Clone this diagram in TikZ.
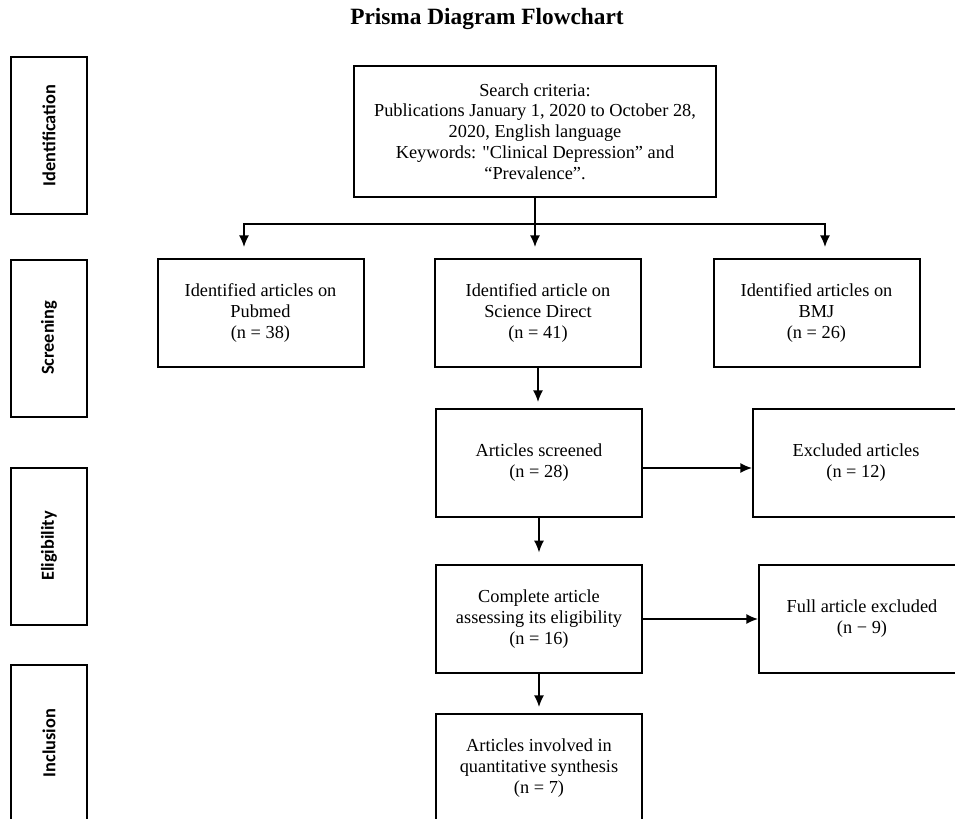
\documentclass[tikz,border=0pt]{standalone}
\usepackage{fontspec}
\setmainfont{Liberation Serif}
\newfontfamily\stagefont{Carlito}
\usetikzlibrary{calc,arrows.meta}

\begin{document}
\begin{tikzpicture}[x=0.6pt, y=-0.6pt, >={Latex[length=7pt,width=6pt]},
  box/.style={rectangle, draw, line width=1.2pt, align=center, minimum width=123.6pt, minimum height=64.8pt, font=\fontsize{11}{12.5}\selectfont},
  stage/.style={rectangle, draw, line width=1.2pt, rotate=90, minimum width=94.2pt, minimum height=45.6pt, font=\stagefont\bfseries\fontsize{11}{13}\selectfont},
  link/.style={->, line width=0.8pt}]
            \useasboundingbox (0,0) rectangle (955,819);
            \clip (0,0) rectangle (955,819);
            \node[font=\bfseries\fontsize{14}{16}\selectfont] (title) at (487,19) {Prisma Diagram Flowchart};
            % stages on the left
            \node[stage] (ident) at (49,135.5) {Identification};
            \node[stage] (screen) at (49,338) {Screening};
            \node[stage] (elig) at (49,546) {Eligibility};
            \node[stage] (incl) at (49,743) {Inclusion};
            % boxes
            \node[box, minimum width=217.2pt, minimum height=78.6pt] (search) at (535,131.5) {Search criteria:\\Publications January 1, 2020 to October 28,\\2020, English language\\Keywords: \textquotedbl Clinical Depression” and\\“Prevalence”.};
            \node[box] (pubmed) at (260.5,313) {Identified articles on\\Pubmed\\(n = 38)};
            \node[box] (sd) at (538,313) {Identified article on\\Science Direct\\(n = 41)};
            \node[box] (bmj) at (816.5,313) {Identified articles on\\BMJ\\(n = 26)};
            \node[box] (screened) at (539,463) {Articles screened\\(n = 28)};
            \node[box] (excluded) at (856,463) {Excluded articles\\(n = 12)};
            \node[box] (complete) at (539,619) {Complete article\\assessing its eligibility\\(n = 16)};
            \node[box] (full) at (862,619) {Full article excluded\\(n − 9)};
            \node[box] (included) at (539,768) {Articles involved in\\quantitative synthesis\\(n = 7)};
            % connectors
            \draw[line width=0.8pt] (search.south) -- ++(0,26) coordinate (fork);
            \draw[link, shorten >=6.6pt] (fork) -| ($(pubmed.north)+(-16.5,0)$);
            \draw[link, shorten >=6.6pt] (fork) -| ($(bmj.north)+(8.5,0)$);
            \draw[link, shorten >=6.6pt] (fork) -- (fork |- sd.north);
            \draw[link, shorten >=3.6pt] (sd.south) -- (sd.south |- screened.north);
            \draw[link, shorten >=7pt] (screened.south) -- (complete.north);
            \draw[link, shorten >=3.6pt] (complete.south) -- (included.north);
            \draw[link] ($(screened.east)+(0,5)$) -- ($(excluded.west)+(0,5)$);
            \draw[link] (complete.east) -- (full.west);
\end{tikzpicture}
\end{document}
